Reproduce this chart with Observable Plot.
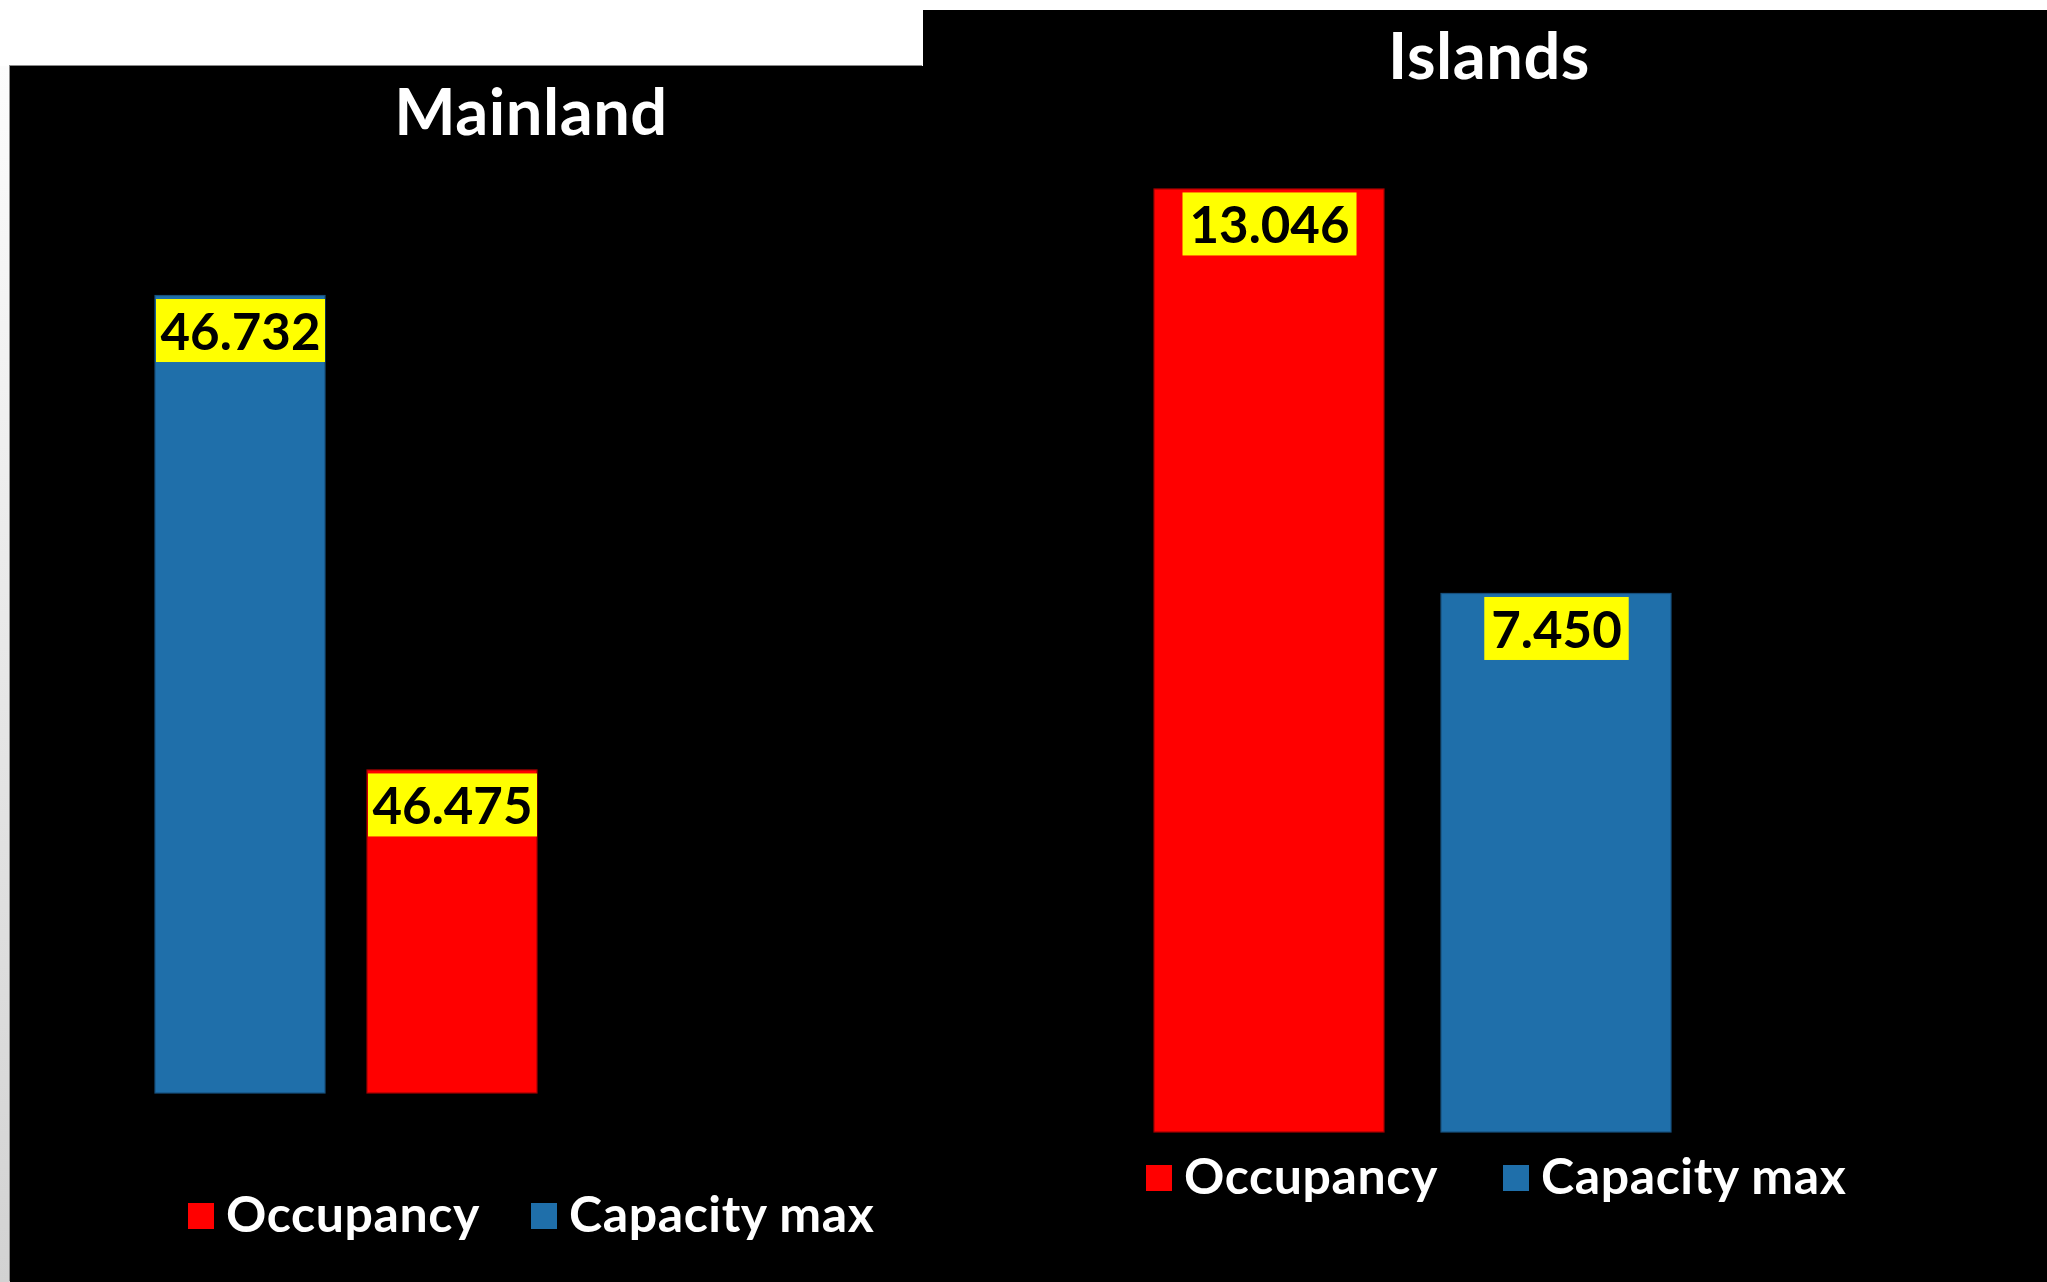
<!DOCTYPE html>
<html><head><meta charset="utf-8">
<script src="https://cdn.jsdelivr.net/npm/d3@7"></script>
<script src="https://cdn.jsdelivr.net/npm/@observablehq/plot@0.6"></script>
<style>
html,body{margin:0;padding:0;background:#fff;width:2047px;height:1282px;overflow:hidden;font-family:Lato,"DejaVu Sans",sans-serif}
.strip{position:absolute;left:0;top:66px;width:10px;height:1216px;background:linear-gradient(#fcfcfc,#d2d2d2)}
.panel{position:absolute;background:#000;overflow:hidden}
#left{left:10px;top:66px;width:913px;height:1216px;box-shadow:-1px -1px 0 #8a8a8a}
#right{left:923px;top:10px;width:1124px;height:1272px}
.panel svg{position:absolute;left:0;top:0}
.title{position:absolute;color:#fff;font-weight:700;font-size:65px;line-height:1.2;white-space:nowrap;transform:translateX(-50%);letter-spacing:0.5px}
.sw{position:absolute;width:26px;height:26px}
.lt{position:absolute;color:#fff;font-weight:700;font-size:50px;line-height:1.2;white-space:nowrap;letter-spacing:0.6px}
</style></head>
<body>
<div class="strip"></div>
<div class="panel" id="left"></div>
<div class="panel" id="right"></div>
<script>
// ---- data ----
const seriesNames = ["Occupancy", "Capacity max"];
const seriesColors = ["#ff0000", "#1f6faa"];
const seriesStrokes = ["#a00000", "#17507d"];
const mainlandTitle = "Mainland";
const mainlandCategories = ["Capacity max", "Occupancy"];
const mainlandValues = [46732, 46475];
const mainlandDomain = [46300, 46800];
const islandsTitle = "Islands";
const islandsCategories = ["Occupancy", "Capacity max"];
const islandsValues = [13046, 7450];
const islandsDomain = [0, 14000];

const fmt = d3.formatLocale({decimal: ",", thousands: ".", grouping: [3], currency: ["", "€"]}).format(",d");
const colorOf = c => seriesColors[seriesNames.indexOf(c)];
const strokeOf = c => seriesStrokes[seriesNames.indexOf(c)];

function panel(el, cfg) {
  const data = cfg.cats.map((c, i) => ({cat: c, value: cfg.values[i], base: cfg.domain[0]}));
  const chart = Plot.plot({
    width: cfg.width, height: cfg.height,
    marginLeft: cfg.ml, marginRight: cfg.mr, marginTop: cfg.mt, marginBottom: cfg.mb,
    style: {background: "transparent"},
    x: {axis: null, domain: cfg.cats, paddingInner: 0.2, paddingOuter: 0},
    y: {axis: null, domain: cfg.domain},
    marks: [
      Plot.rectY(data, {x: "cat", y1: "base", y2: "value", fill: d => colorOf(d.cat), stroke: d => strokeOf(d.cat), strokeWidth: 1.2}),
      Plot.text(data, {x: "cat", y: "value", text: d => fmt(d.value), lineAnchor: "bottom", dy: 54,
        fill: "#000", fontSize: 51, fontWeight: 700, fontFamily: "Lato", className: "lbl"})
    ]
  });
  el.appendChild(chart);
  const bw = chart.scale("x").bandwidth;
  // yellow label backgrounds (clipped to the bar width)
  chart.querySelectorAll("g.lbl text").forEach(t => {
    const b = t.getBBox();
    const w = Math.min(b.width + 14, bw - 1);
    const cx = b.x + b.width / 2;
    const r = document.createElementNS("http://www.w3.org/2000/svg", "rect");
    r.setAttribute("x", cx - w / 2); r.setAttribute("y", b.y - 1);
    r.setAttribute("width", w); r.setAttribute("height", b.height + 2);
    r.setAttribute("fill", "#ffff00");
    const tr = t.getAttribute("transform"); if (tr) r.setAttribute("transform", tr);
    t.parentNode.insertBefore(r, t);
  });
  const ti = document.createElement("div");
  ti.className = "title"; ti.textContent = cfg.title;
  ti.style.left = cfg.tx + "px"; ti.style.top = (cfg.tb - 0.987 * 65) + "px";
  el.appendChild(ti);
  seriesNames.forEach((s, i) => {
    const sw = document.createElement("div");
    sw.className = "sw"; sw.style.background = seriesColors[i];
    sw.style.left = cfg.leg[i] + "px"; sw.style.top = cfg.legY + "px";
    el.appendChild(sw);
    const lt = document.createElement("div");
    lt.className = "lt"; lt.textContent = s;
    lt.style.left = (cfg.leg[i] + 38) + "px"; lt.style.top = (cfg.legY + 29 - 0.987 * 50) + "px";
    el.appendChild(lt);
  });
}

panel(document.getElementById("left"), {
  title: mainlandTitle, cats: mainlandCategories, values: mainlandValues, domain: mainlandDomain,
  width: 913, height: 1216, ml: 144, mr: 386, mt: 104, mb: 189,
  tx: 521, tb: 69, leg: [178, 521], legY: 1137
});
panel(document.getElementById("right"), {
  title: islandsTitle, cats: islandsCategories, values: islandsValues, domain: islandsDomain,
  width: 1124, height: 1272, ml: 230, mr: 376, mt: 110, mb: 150,
  tx: 566, tb: 69, leg: [223, 580], legY: 1155
});
</script>
</body></html>
